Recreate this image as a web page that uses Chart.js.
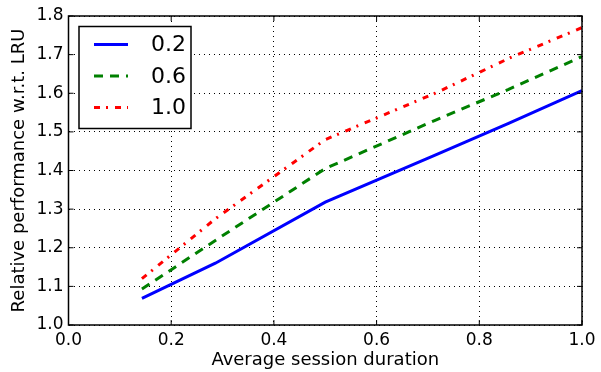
<!DOCTYPE html>
<html lang="en">
  <head>
    <meta charset="UTF-8" />
    <script src="https://cdn.jsdelivr.net/npm/chart.js"></script>
    <title>Relative performance</title>
    <style>
      html, body { margin: 0; padding: 0; background: #fff; }
      #wrap { width: 601px; height: 372px; }
    </style>
  </head>
  <body>
    <div id="wrap"><canvas id="grafico" width="601" height="372"></canvas></div>

    <script>
      // dados
      var duracoes = [0.143, 0.286, 0.5, 0.714, 0.857, 1.0];
      var perf02 = [1.069, 1.160, 1.318, 1.440, 1.522, 1.607];
      var perf06 = [1.093, 1.219, 1.405, 1.530, 1.610, 1.695];
      var perf10 = [1.120, 1.275, 1.480, 1.600, 1.690, 1.770];
      var rotulos = ["0.2", "0.6", "1.0"];

      var fonte = "'DejaVu Sans', sans-serif";

      function pontos(ys) {
        return duracoes.map(function (x, i) {
          return { x: x, y: ys[i] };
        });
      }

      // moldura, marcas para dentro e legenda com caixa
      var extras = {
        id: "extras",
        afterDraw: function (chart) {
          var ctx = chart.ctx;
          var a = chart.chartArea;
          var sx = chart.scales.x;
          var sy = chart.scales.y;
          ctx.save();
          ctx.strokeStyle = "#000";
          ctx.lineWidth = 1;
          ctx.setLineDash([]);
          ctx.beginPath();
          sx.ticks.forEach(function (t) {
            var px = sx.getPixelForValue(t.value);
            ctx.moveTo(px, a.bottom);
            ctx.lineTo(px, a.bottom - 5);
            ctx.moveTo(px, a.top);
            ctx.lineTo(px, a.top + 5);
          });
          sy.ticks.forEach(function (t) {
            var py = sy.getPixelForValue(t.value);
            ctx.moveTo(a.left, py);
            ctx.lineTo(a.left + 5, py);
            ctx.moveTo(a.right, py);
            ctx.lineTo(a.right - 5, py);
          });
          ctx.stroke();
          ctx.lineWidth = 1.5;
          ctx.strokeRect(a.left, a.top, a.right - a.left, a.bottom - a.top);

          // legenda
          var bx = a.left + 10.5, by = a.top + 10.5, bw = 112, bh = 102;
          ctx.fillStyle = "#fff";
          ctx.fillRect(bx, by, bw, bh);
          ctx.lineWidth = 1.5;
          ctx.strokeRect(bx, by, bw, bh);
          chart.data.datasets.forEach(function (ds, i) {
            var yy = by + 18 + i * 31.5;
            ctx.strokeStyle = ds.borderColor;
            ctx.lineWidth = ds.borderWidth;
            ctx.setLineDash(ds.borderDash || []);
            ctx.beginPath();
            ctx.moveTo(bx + 15, yy);
            ctx.lineTo(bx + 49, yy);
            ctx.stroke();
            ctx.setLineDash([]);
            ctx.fillStyle = "#000";
            ctx.font = "22px " + fonte;
            ctx.textBaseline = "middle";
            ctx.textAlign = "left";
            ctx.fillText(ds.label, bx + 72, yy + 1);
          });
          ctx.restore();
        },
      };

      new Chart(document.getElementById("grafico"), {
        type: "line",
        data: {
          datasets: [
            {
              label: rotulos[0],
              data: pontos(perf02),
              borderColor: "#0000ff",
              borderWidth: 3,
              pointRadius: 0,
              tension: 0,
            },
            {
              label: rotulos[1],
              data: pontos(perf06),
              borderColor: "#008000",
              borderWidth: 3,
              borderDash: [9, 7],
              pointRadius: 0,
              tension: 0,
            },
            {
              label: rotulos[2],
              data: pontos(perf10),
              borderColor: "#ff0000",
              borderWidth: 3,
              borderDash: [6, 6, 2, 7],
              pointRadius: 0,
              tension: 0,
            },
          ],
        },
        options: {
          responsive: false,
          animation: false,
          layout: { padding: { top: 16, right: 19, left: 0, bottom: 0 } },
          plugins: {
            legend: { display: false },
            tooltip: { enabled: false },
          },
          scales: {
            x: {
              type: "linear",
              min: 0,
              max: 1,
              afterFit: function (s) { s.height = 47; },
              ticks: {
                stepSize: 0.2,
                padding: 5,
                color: "#000",
                font: { family: fonte, size: 17 },
                callback: function (v) { return v.toFixed(1); },
              },
              grid: { color: "#000", lineWidth: 1, drawTicks: false },
              border: { display: false, dash: [1, 4] },
              title: {
                display: true,
                text: "Average session duration",
                color: "#000",
                font: { family: fonte, size: 18 },
                padding: { top: 0, bottom: 1 },
              },
            },
            y: {
              min: 1.0,
              max: 1.8,
              afterFit: function (s) { s.width = 68.5; },
              ticks: {
                stepSize: 0.1,
                padding: 5,
                color: "#000",
                font: { family: fonte, size: 17 },
                callback: function (v) { return v.toFixed(1); },
              },
              grid: { color: "#000", lineWidth: 1, drawTicks: false },
              border: { display: false, dash: [1, 4] },
              title: {
                display: true,
                text: "Relative performance w.r.t. LRU",
                color: "#000",
                font: { family: fonte, size: 18 },
                padding: { top: 9, bottom: 0 },
              },
            },
          },
        },
        plugins: [extras],
      });
    </script>
  </body>
</html>
